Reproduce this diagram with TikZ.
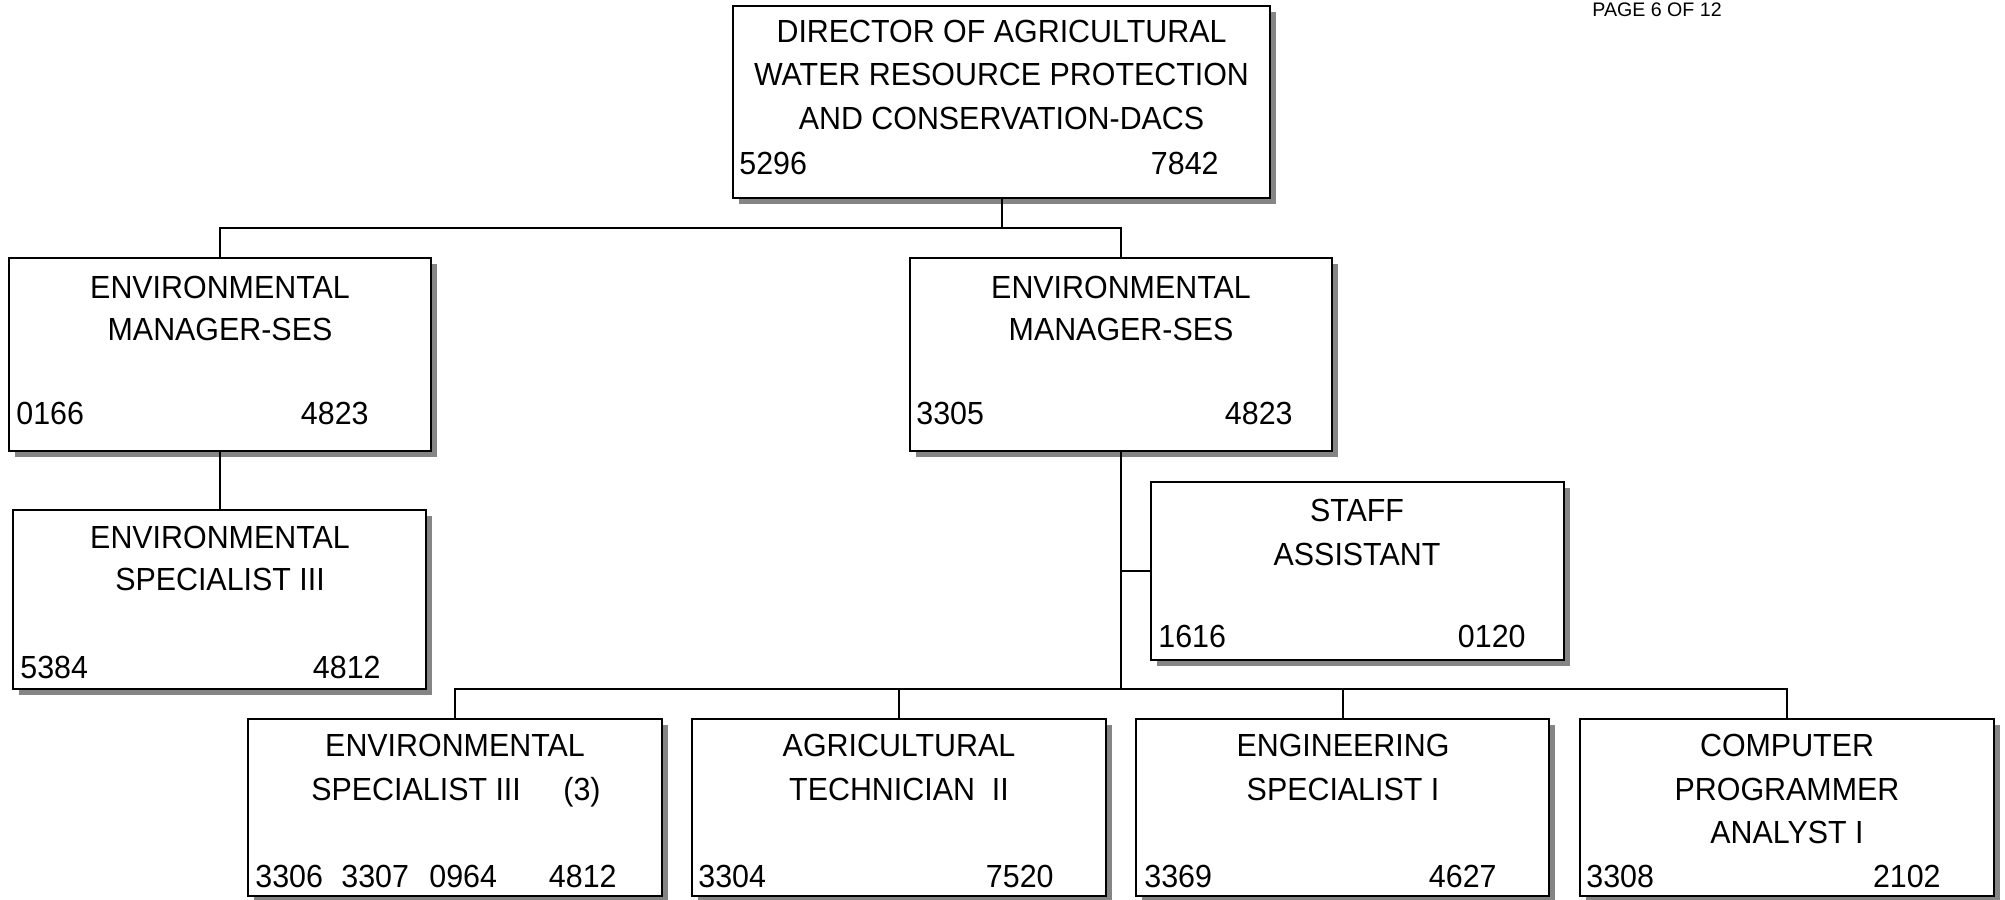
\documentclass[tikz,border=0pt]{standalone}
\usepackage{fontspec}
\setmainfont{Liberation Sans}[FakeStretch=0.95]
\newfontfamily\pagefont{Liberation Sans}
\usetikzlibrary{shadows}
\definecolor{shadowgray}{HTML}{858585}
\tikzset{
  orgbox/.style={draw=black, line width=1.2pt, fill=white, rectangle, inner sep=0pt, outer sep=0pt, anchor=north west,
    drop shadow={shadow xshift=3.2pt, shadow yshift=-3.2pt, fill=shadowgray, opacity=1}},
  lbl/.style={inner sep=0pt, font=\fontsize{16pt}{19pt}\selectfont, anchor=base},
  lnum/.style={lbl, anchor=base west},
  rnum/.style={lbl, anchor=base east},
  conn/.style={line width=1pt, draw=black},
}
\begin{document}
\begin{tikzpicture}[x=0.5pt, y=-0.5pt]
\useasboundingbox (0,0) rectangle (2005,899);
% page label
\node[inner sep=0pt, anchor=base west, font=\pagefont\fontsize{9.8pt}{11pt}\selectfont] (page) at (1592,17) {PAGE 6 OF 12};

% boxes
\node[orgbox, minimum width=268.5pt, minimum height=96pt] (d) at (733,6) {};
\node[orgbox, minimum width=211pt, minimum height=96.5pt] (em1) at (9,258) {};
\node[orgbox, minimum width=211pt, minimum height=96.5pt] (em2) at (910,258) {};
\node[orgbox, minimum width=206.5pt, minimum height=89.5pt] (es1) at (13,510) {};
\node[orgbox, minimum width=206.5pt, minimum height=89pt] (sa) at (1151,482) {};
\node[orgbox, minimum width=207pt, minimum height=88.5pt] (b1) at (248,719) {};
\node[orgbox, minimum width=207pt, minimum height=88.5pt] (b2) at (692,719) {};
\node[orgbox, minimum width=206.5pt, minimum height=88.5pt] (b3) at (1136,719) {};
\node[orgbox, minimum width=207pt, minimum height=88.5pt] (b4) at (1580,719) {};

% connectors
\path (d.south) ++(0,30) coordinate (j1);
\path (em2.south) ++(0,238) coordinate (j2);
\path (em2.south -| em2.south) ++(0,0) coordinate (em2s);
\coordinate (j3) at (em2s |- sa.west);
\draw[conn] (d.south) -- (j1);
\draw[conn] (em1.north) |- (j1) -| (em2.north);
\draw[conn] (em1.south) -- (em1.south |- es1.north);
\draw[conn] (em2.south) -- (j2);
\draw[conn] (j3) -- (sa.west);
\draw[conn] (b1.north) |- (j2) -| (b4.north);
\draw[conn] (b2.north) -- (b2.north |- j2);
\draw[conn] (b3.north) -- (b3.north |- j2);

% director
\node[lbl] (d1) at (1001.5,43) {DIRECTOR OF AGRICULTURAL};
\node[lbl] (d2) at (1001.5,86) {WATER RESOURCE PROTECTION};
\node[lbl] (d3) at (1001.5,129) {AND CONSERVATION-DACS};
\node[lnum] (dn1) at (739,174) {5296};
\node[rnum] (dn2) at (1219,174) {7842};

% environmental manager left
\node[lbl] (e11) at (220,298) {ENVIRONMENTAL};
\node[lbl] (e12) at (220,340) {MANAGER-SES};
\node[lnum] (e1n1) at (16,424) {0166};
\node[rnum] (e1n2) at (369,424) {4823};

% environmental manager right
\node[lbl] (e21) at (1121,298) {ENVIRONMENTAL};
\node[lbl] (e22) at (1121,340) {MANAGER-SES};
\node[lnum] (e2n1) at (916,424) {3305};
\node[rnum] (e2n2) at (1293,424) {4823};

% environmental specialist left
\node[lbl] (s11) at (220,548) {ENVIRONMENTAL};
\node[lbl] (s12) at (220,590) {SPECIALIST III};
\node[lnum] (s1n1) at (20,678) {5384};
\node[rnum] (s1n2) at (381,678) {4812};

% staff assistant
\node[lbl] (sa1) at (1357,521) {STAFF};
\node[lbl] (sa2) at (1357,565) {ASSISTANT};
\node[lnum] (san1) at (1158,647) {1616};
\node[rnum] (san2) at (1526,647) {0120};

% bottom box 1
\node[lbl] (b11) at (455,756) {ENVIRONMENTAL};
\node[lbl, anchor=base west] (b12) at (311,800) {SPECIALIST III};
\node[lbl, anchor=base west] (b13) at (563,800) {(3)};
\node[lnum] (b1n1) at (255,887) {3306};
\node[lnum] (b1n2) at (341,887) {3307};
\node[lnum] (b1n3) at (429,887) {0964};
\node[rnum] (b1n4) at (617,887) {4812};

% bottom box 2
\node[lbl] (b21) at (899,756) {AGRICULTURAL};
\node[lbl] (b22) at (899,800) {TECHNICIAN\ \ II};
\node[lnum] (b2n1) at (698,887) {3304};
\node[rnum] (b2n2) at (1054,887) {7520};

% bottom box 3
\node[lbl] (b31) at (1343,756) {ENGINEERING};
\node[lbl] (b32) at (1343,800) {SPECIALIST I};
\node[lnum] (b3n1) at (1144,887) {3369};
\node[rnum] (b3n2) at (1497,887) {4627};

% bottom box 4
\node[lbl] (b41) at (1787,756) {COMPUTER};
\node[lbl] (b42) at (1787,800) {PROGRAMMER};
\node[lbl] (b43) at (1787,843) {ANALYST I};
\node[lnum] (b4n1) at (1586,887) {3308};
\node[rnum] (b4n2) at (1941,887) {2102};
\end{tikzpicture}
\end{document}
